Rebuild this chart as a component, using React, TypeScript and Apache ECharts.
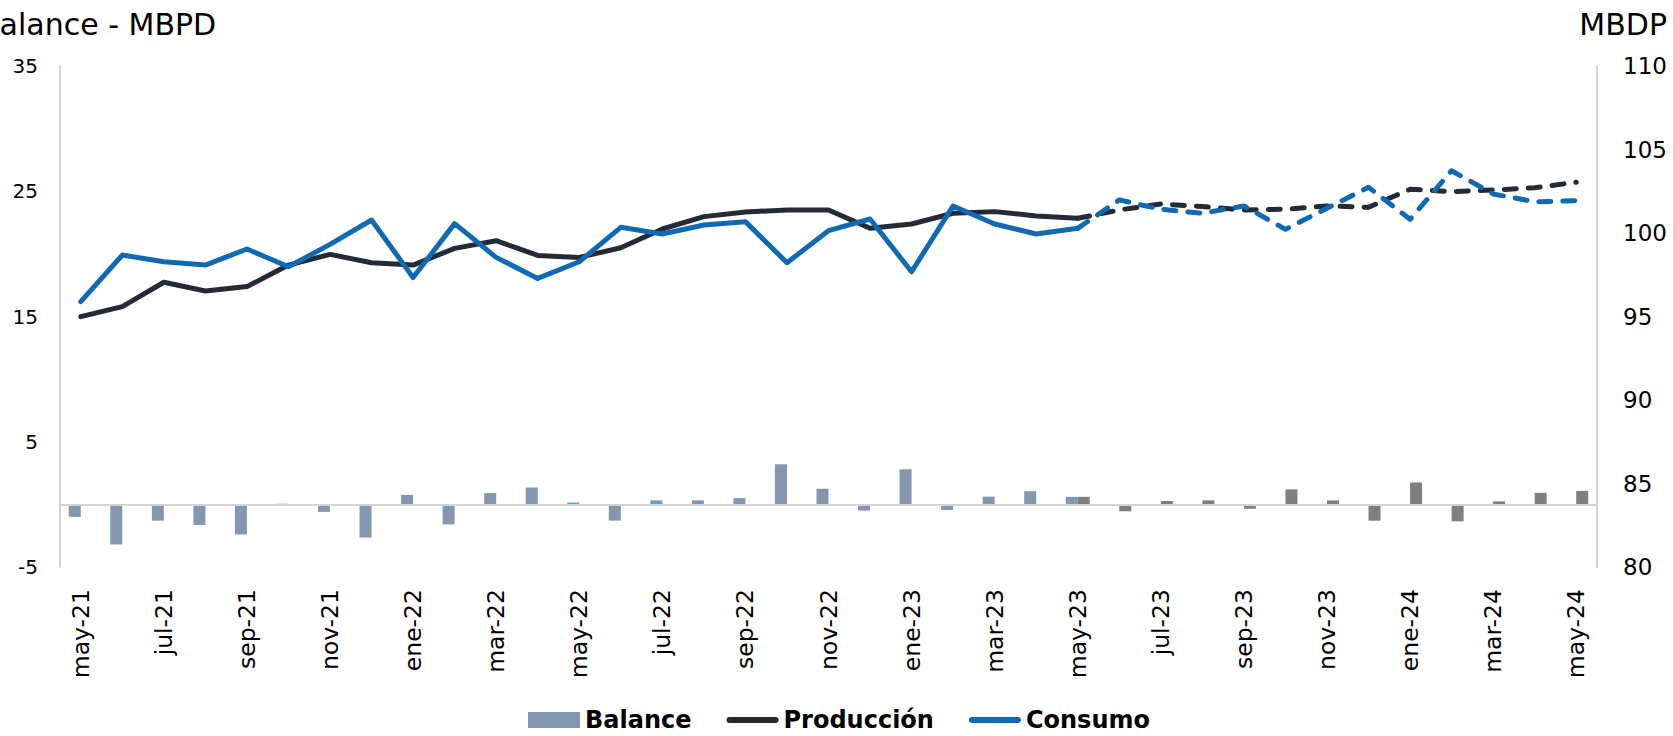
import React, { useEffect, useRef } from "react";
import * as echarts from "echarts";

const categories = [
  "may-21", "jun-21", "jul-21", "ago-21", "sep-21", "oct-21", "nov-21", "dic-21",
  "ene-22", "feb-22", "mar-22", "abr-22", "may-22", "jun-22", "jul-22", "ago-22",
  "sep-22", "oct-22", "nov-22", "dic-22", "ene-23", "feb-23", "mar-23", "abr-23",
  "may-23", "jun-23", "jul-23", "ago-23", "sep-23", "oct-23", "nov-23", "dic-23",
  "ene-24", "feb-24", "mar-24", "abr-24", "may-24",
];

// Balance (left axis, MBPD)
const balance = [
  -1.0, -3.2, -1.3, -1.65, -2.4, 0.05, -0.6, -2.65,
  0.76, -1.6, 0.9, 1.35, 0.15, -1.3, 0.32, 0.32,
  0.5, 3.2, 1.25, -0.5, 2.8, -0.45, 0.62, 1.05,
  0.6, -0.55, 0.27, 0.32, -0.35, 1.2, 0.32, -1.3,
  1.75, -1.35, 0.24, 0.92, 1.08,
];

// Producción (right axis, MBDP)
const produccion = [
  94.99, 95.59, 97.05, 96.53, 96.79, 98.08, 98.72, 98.22,
  98.08, 99.08, 99.54, 98.66, 98.54, 99.12, 100.24, 100.98,
  101.26, 101.38, 101.38, 100.28, 100.54, 101.18, 101.28, 101.02,
  100.88, 101.38, 101.74, 101.58, 101.38, 101.42, 101.62, 101.54,
  102.62, 102.48, 102.57, 102.71, 103.04,
];

// Consumo (right axis, MBDP)
const consumo = [
  95.89, 98.68, 98.28, 98.08, 99.04, 97.98, 99.32, 100.78,
  97.33, 100.56, 98.54, 97.28, 98.28, 100.34, 99.94, 100.48,
  100.68, 98.22, 100.14, 100.84, 97.68, 101.62, 100.54, 99.94,
  100.28, 101.98, 101.42, 101.18, 101.62, 100.22, 101.48, 102.74,
  100.82, 103.73, 102.34, 101.87, 101.93,
];

// index of last historical month (may-23); projections start here
const LAST_HIST = 24;

const leftTickLabels = [-5, 5, 15, 25, 35];
const rightTickLabels = [80, 85, 90, 95, 100, 105, 110];

const FONT = "DejaVu Sans";

const hist = (arr: number[]) => arr.map((v, i) => (i <= LAST_HIST ? v : null));
const proj = (arr: number[]) => arr.map((v, i) => (i >= LAST_HIST ? v : null));

// legend line icon: thick rounded bar inside a 52x16 box
const LINE_ICON =
  "path://M0,0M52,16M3,5L49,5A3,3,0,0,1,49,11L3,11A3,3,0,0,1,3,5Z";

export default function App() {
  const ref = useRef<HTMLDivElement>(null);

  useEffect(() => {
    if (!ref.current) return;
    const chart = echarts.init(ref.current, undefined, { renderer: "svg" });

    const prodColor = "#232b36";
    const consColor = "#1069b3";
    const dash = [12, 12];

    chart.setOption({
      animation: false,
      backgroundColor: "#ffffff",
      textStyle: { fontFamily: FONT },
      grid: { left: 60, right: 76, top: 66, bottom: 169, containLabel: false },
      legend: {
        left: 523,
        top: 703,
        itemWidth: 52,
        itemHeight: 16,
        itemGap: 35,
        textStyle: { fontFamily: FONT, fontSize: 24, fontWeight: "bold", color: "#000" },
        data: [
          { name: "Balance", icon: "rect" },
          { name: "Producción", icon: LINE_ICON },
          { name: "Consumo", icon: LINE_ICON },
        ],
      },
      graphic: [
        {
          type: "text",
          x: -21,
          y: 24.5,
          style: {
            text: "Balance - MBPD",
            font: `30px "${FONT}"`,
            fill: "#000",
            textAlign: "left",
            textVerticalAlign: "middle",
          },
        },
        {
          type: "text",
          x: 1667,
          y: 24.5,
          style: {
            text: "MBDP",
            font: `30px "${FONT}"`,
            fill: "#000",
            textAlign: "right",
            textVerticalAlign: "middle",
          },
        },
      ],
      xAxis: {
        type: "category",
        data: categories,
        boundaryGap: true,
        axisLine: { show: false, onZero: false },
        axisTick: { show: false },
        splitLine: { show: false },
        axisLabel: {
          interval: 1,
          rotate: 90,
          margin: 22,
          fontSize: 23.5,
          fontFamily: FONT,
          color: "#000",
        },
      },
      yAxis: [
        {
          type: "value",
          min: -5,
          max: 35,
          interval: 5,
          position: "left",
          axisLine: { show: true, onZero: false, lineStyle: { color: "#c4c4c4", width: 1.5 } },
          axisTick: { show: false },
          splitLine: { show: false },
          axisLabel: {
            margin: 22,
            fontSize: 20,
            fontFamily: FONT,
            color: "#000",
            formatter: (v: number) => (leftTickLabels.includes(v) ? String(v) : ""),
          },
        },
        {
          type: "value",
          min: 80,
          max: 110,
          interval: 5,
          position: "right",
          axisLine: { show: true, onZero: false, lineStyle: { color: "#c4c4c4", width: 1.5 } },
          axisTick: { show: false },
          splitLine: { show: false },
          axisLabel: {
            margin: 26,
            fontSize: 23,
            fontFamily: FONT,
            color: "#000",
            formatter: (v: number) => (rightTickLabels.includes(v) ? String(v) : ""),
          },
        },
      ],
      series: [
        {
          name: "Balance",
          type: "bar",
          yAxisIndex: 0,
          data: hist(balance),
          barWidth: 12,
          barGap: "0%",
          itemStyle: { color: "#8497b0" },
          markLine: {
            silent: true,
            symbol: ["none", "none"],
            label: { show: false },
            lineStyle: { color: "#d4d4d4", width: 2, type: "solid" },
            data: [{ yAxis: 0 }],
          },
        },
        {
          name: "Balance proyección",
          type: "bar",
          yAxisIndex: 0,
          data: proj(balance),
          barWidth: 12,
          barGap: "0%",
          itemStyle: { color: "#7f7f7f" },
        },
        {
          name: "Producción",
          type: "line",
          yAxisIndex: 1,
          data: hist(produccion),
          symbol: "none",
          showSymbol: false,
          lineStyle: { color: prodColor, width: 5, cap: "round", join: "round" },
          itemStyle: { color: prodColor },
        },
        {
          name: "Producción proyección",
          type: "line",
          yAxisIndex: 1,
          data: proj(produccion),
          symbol: "none",
          showSymbol: false,
          lineStyle: { color: prodColor, width: 5, type: dash, cap: "round", join: "round" },
          itemStyle: { color: prodColor },
        },
        {
          name: "Consumo",
          type: "line",
          yAxisIndex: 1,
          data: hist(consumo),
          symbol: "none",
          showSymbol: false,
          lineStyle: { color: consColor, width: 5, cap: "round", join: "round" },
          itemStyle: { color: consColor },
        },
        {
          name: "Consumo proyección",
          type: "line",
          yAxisIndex: 1,
          data: proj(consumo),
          symbol: "none",
          showSymbol: false,
          lineStyle: { color: consColor, width: 5, type: dash, cap: "round", join: "round" },
          itemStyle: { color: consColor },
        },
      ],
    });

    return () => chart.dispose();
  }, []);

  return (
    <div
      ref={ref}
      style={{ position: "fixed", left: 0, top: 0, width: 1673, height: 736, background: "#fff" }}
    />
  );
}
